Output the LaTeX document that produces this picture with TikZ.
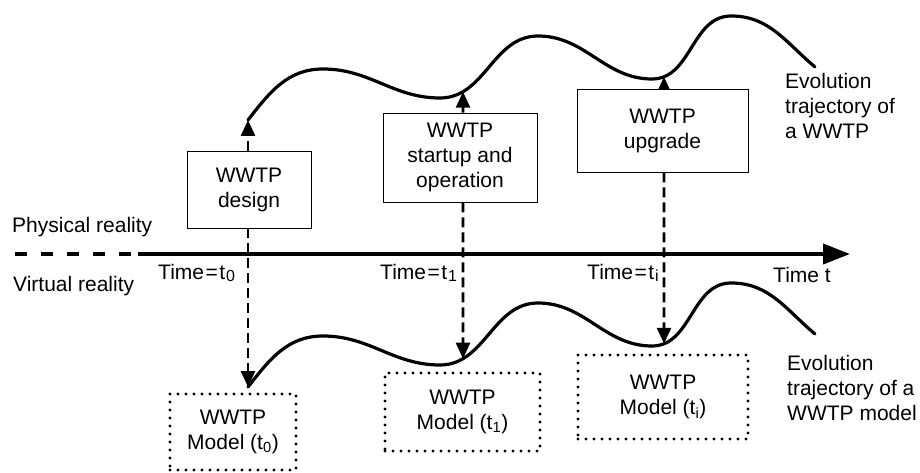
\documentclass[tikz,border=0pt]{standalone}
\usepackage{fontspec}
\setmainfont{Liberation Sans}
\usetikzlibrary{arrows.meta,intersections,backgrounds}

\newcommand{\txtsize}{\fontsize{21}{25}\selectfont}
\newcommand{\tsub}[1]{\hspace{1pt}\raisebox{-0.25ex}{\fontsize{16}{16}\selectfont #1}}
\newcommand{\teq}{\hspace{1.5pt}=\hspace{1.5pt}}

\tikzset{
  lbl/.style={font=\txtsize, inner sep=0pt},
  stagebox/.style={draw, line width=0.9pt, fill=white, align=center,
    font=\txtsize, inner sep=0pt},
  modelbox/.style={draw, line width=3.2pt, dash pattern=on 0pt off 8pt,
    line cap=round, fill=white, align=center,
    font=\txtsize, inner sep=0pt},
  traj/.style={line width=3.2pt, line cap=round},
  link/.style={line width=2.6pt, dash pattern=on 10pt off 5pt,
    -{Triangle[length=16pt,width=14pt]}},
  timeaxis/.style={line width=4pt, -{Triangle[length=27pt,width=20pt]}},
}

\begin{document}
\begin{tikzpicture}[x=1pt,y=1pt]
\useasboundingbox (0,0) rectangle (920,472);

% stages in the physical world
\node[stagebox, minimum width=124, minimum height=77] (design) at (249,282.5) {WWTP\\design};
\node[stagebox, minimum width=154, minimum height=89] (startup) at (460,314.5) {WWTP\\startup and\\operation};
\node[stagebox, minimum width=171, minimum height=83] (upgrade) at (662.5,341.5) {WWTP\\upgrade};

% models in the virtual world
\node[modelbox, minimum width=126, minimum height=76] (model0) at (233,40) {WWTP\\Model (t\textsubscript{0})};
\node[modelbox, minimum width=155, minimum height=78] (model1) at (462.5,60) {WWTP\\Model (t\textsubscript{1})};
\node[modelbox, minimum width=170, minimum height=84] (modeli) at (663,75) {WWTP\\Model (t\textsubscript{i})};

% trajectories: plant (top) and model (bottom, same shape shifted down)
\draw[traj, name path global=upper] (248,352) to[out=52,in=180] (323,403)
  to[out=0,in=180] (440,374) to[out=0,in=180] (538,436)
  to[out=0,in=180] (652,393) to[out=0,in=180] (731,456)
  to[out=0,in=140] (815,405);
\begin{scope}[yshift=-267]
\draw[traj, name path global=lower] (248,352) to[out=52,in=180] (323,403)
  to[out=0,in=180] (440,374) to[out=0,in=180] (538,436)
  to[out=0,in=180] (652,393) to[out=0,in=180] (731,456)
  to[out=0,in=140] (815,405);
\end{scope}

\coordinate (x0) at (248,0);
\coordinate (x1) at (463,0);
\coordinate (xi) at (664,0);
\coordinate (u0) at (248,352);
\coordinate (l0) at (248,85);
\path[name path=v1] (463,0) -- (463,472);
\path[name path=vi] (664,0) -- (664,472);
\path[name intersections={of=upper and v1, by={u1}}];
\path[name intersections={of=lower and v1, by={l1}}];
\path[name intersections={of=upper and vi, by={ui}}];
\path[name intersections={of=lower and vi, by={li}}];

% time axis separating physical and virtual reality
\coordinate (axisL) at (15,218);
\coordinate (axisM) at (138,218);
\coordinate (axisR) at (850,218);
\draw[line width=3.5pt, dash pattern=on 12pt off 14pt] (axisL) -- (axisM);
\draw[timeaxis] (axisM) -- (axisR);

\begin{pgfonlayer}{background}
\draw[link] (x0 |- design.north) -- (u0);
\draw[link] (x0 |- design.south) -- (l0);
\draw[link] (x1 |- startup.north) -- (u1);
\draw[link] (x1 |- startup.south) -- (l1);
\draw[link] (xi |- upgrade.north) -- (ui);
\draw[link] (xi |- upgrade.south) -- (li);
\end{pgfonlayer}

% labels
\node[lbl, anchor=base west] (phys) at (12,240) {Physical reality};
\node[lbl, anchor=base west] (virt) at (13,181) {Virtual reality};
\node[lbl, anchor=base west] (t0) at (158,193) {Time\teq t\tsub{0}};
\node[lbl, anchor=base west] (t1) at (380,193) {Time\teq t\tsub{1}};
\node[lbl, anchor=base west] (ti) at (587,193) {Time\teq t\tsub{i}};
\node[lbl, anchor=base west] (tt) at (773,190) {Time t};
\node[lbl, anchor=north west, align=left] (evo1) at (785,399) {Evolution\\trajectory of\\a WWTP};
\node[lbl, anchor=north west, align=left] (evo2) at (787,117) {Evolution\\trajectory of a\\WWTP model};
\end{tikzpicture}
\end{document}
